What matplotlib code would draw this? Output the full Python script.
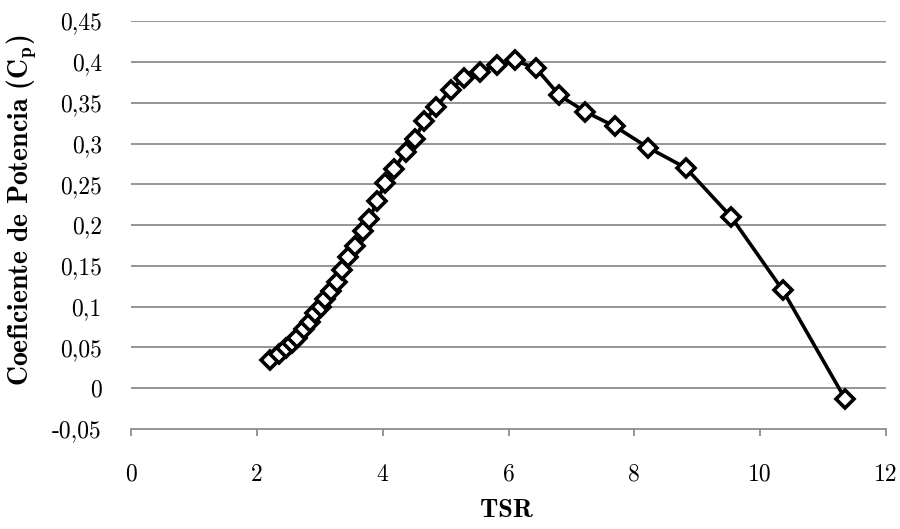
import matplotlib
matplotlib.use("Agg")
import matplotlib.pyplot as plt

tsr = [2.21, 2.36, 2.47, 2.56, 2.64, 2.75, 2.84, 2.93, 3.02, 3.09, 3.18, 3.27,
       3.36, 3.45, 3.56, 3.68, 3.79, 3.91, 4.04, 4.18, 4.37, 4.51, 4.66, 4.85,
       5.08, 5.29, 5.54, 5.81, 6.10, 6.44, 6.81, 7.22, 7.69, 8.22, 8.82, 9.54,
       10.36, 11.35]
cp = [0.034, 0.042, 0.049, 0.055, 0.061, 0.073, 0.081, 0.092, 0.100, 0.110,
      0.119, 0.130, 0.145, 0.161, 0.174, 0.193, 0.208, 0.229, 0.252, 0.269,
      0.290, 0.306, 0.327, 0.345, 0.366, 0.380, 0.388, 0.396, 0.402, 0.392,
      0.359, 0.339, 0.321, 0.295, 0.270, 0.210, 0.120, -0.013]

xticks = [0, 2, 4, 6, 8, 10, 12]
xtick_labels = ["0", "2", "4", "6", "8", "10", "12"]
yticks = [-0.05, 0, 0.05, 0.1, 0.15, 0.2, 0.25, 0.3, 0.35, 0.4, 0.45]
ytick_labels = ["-0,05", "0", "0,05", "0,1", "0,15", "0,2", "0,25", "0,3",
                "0,35", "0,4", "0,45"]

plt.rcParams['mathtext.fontset'] = 'cm'

fig = plt.figure(figsize=(9, 5.29), dpi=100)
ax = fig.add_axes([131 / 900, 0.189, 755 / 900, 0.771])

grid_c = "#8c8c8c"
for y in yticks[1:]:
    ax.axhline(y, color=grid_c, lw=1.3, zorder=1)

ax.plot(tsr, cp, color="black", lw=2.6, marker="D", markersize=9,
        markerfacecolor="white", markeredgecolor="black", markeredgewidth=2.6,
        zorder=3, clip_on=False)

ax.set_xlim(0, 12)
ax.set_ylim(-0.05, 0.45)
ax.set_xticks(xticks)
ax.set_xticklabels(xtick_labels, fontfamily="cmr10", fontsize=17)
ax.set_yticks(yticks)
ax.set_yticklabels(ytick_labels, fontfamily="cmr10", fontsize=17)

for s in ["top", "right", "left"]:
    ax.spines[s].set_visible(False)
ax.spines["bottom"].set_color(grid_c)
ax.spines["bottom"].set_linewidth(1.3)
ax.tick_params(axis="x", direction="out", length=5, width=1.3, color=grid_c, pad=20)
ax.tick_params(axis="y", length=0, pad=21)

ax.set_xlabel("TSR", fontfamily="cmb10", fontsize=19)
ax.set_ylabel(r"Coeficiente de Potencia (C$_\mathbf{p}$)", fontfamily="cmb10",
              fontsize=20)
ax.xaxis.set_label_coords(0.497, -0.199)
ax.xaxis.label.set_va("center")
ax.yaxis.set_label_coords(-0.145, 0.537)
ax.yaxis.label.set_va("center")

fig.savefig("out.png", dpi=100)
